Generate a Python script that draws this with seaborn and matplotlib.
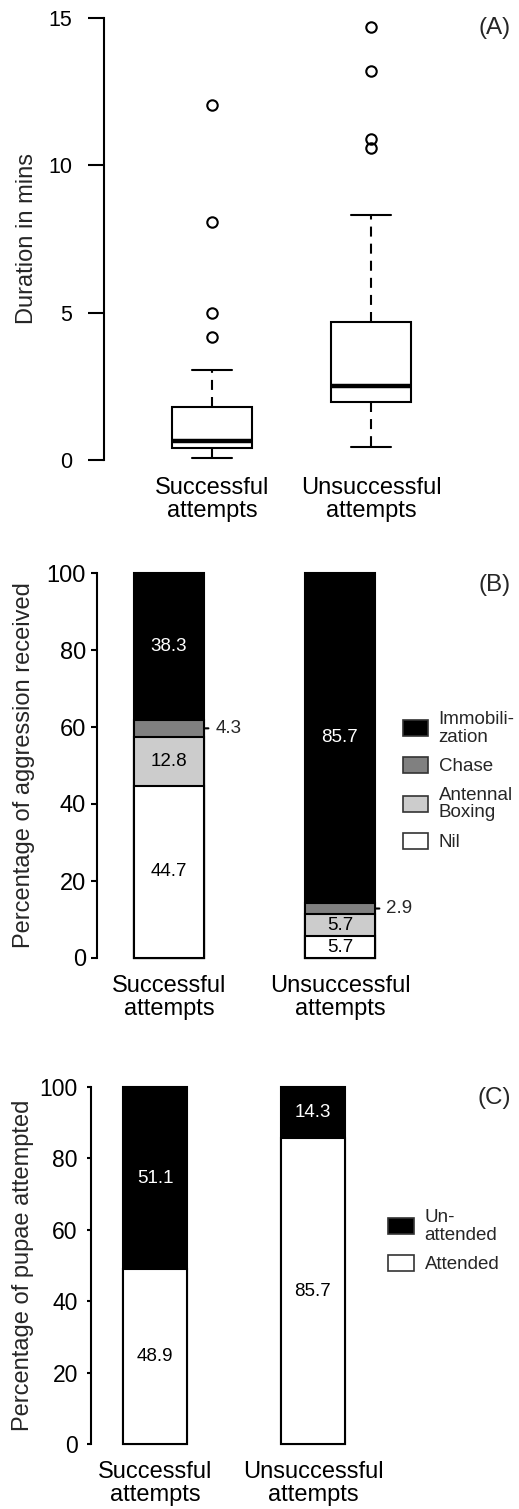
import numpy as np
import pandas as pd
import matplotlib
matplotlib.use("Agg")
import matplotlib.pyplot as plt
import seaborn as sns
from matplotlib.patches import Patch

# categories (x axis of all three panels)
groups = ["Successful\nattempts", "Unsuccessful\nattempts"]

# (A) durations in minutes (quartiles, whiskers, outliers)
dur_successful = [0.07, 0.15, 0.22, 0.30, 0.35, 0.40, 0.45, 0.50, 0.55, 0.60, 0.65,
                  0.80, 1.00, 1.30, 1.55, 1.80, 3.06, 4.18, 4.99, 8.07, 12.04]
dur_unsuccessful = [0.45, 0.90, 1.30, 1.60, 1.80, 1.97, 2.10, 2.20, 2.30, 2.40, 2.52,
                    2.90, 3.30, 3.80, 4.30, 4.70, 8.33, 10.60, 10.88, 13.20, 14.70]

# (B) percentage of aggression received, stacked bottom -> top
aggr_types = ["Nil", "Antennal\nBoxing", "Chase", "Immobili-\nzation"]
aggr_successful = [44.7, 12.8, 4.3, 38.3]
aggr_unsuccessful = [5.7, 5.7, 2.9, 85.7]
aggr_colors = ["white", "#cccccc", "#808080", "black"]
aggr_outside = ["Chase"]

# (C) percentage of pupae attempted, stacked bottom -> top
att_types = ["Attended", "Un-\nattended"]
att_successful = [48.9, 51.1]
att_unsuccessful = [85.7, 14.3]
att_colors = ["white", "black"]

sns.set_style("white")
plt.rcParams["font.family"] = ["Liberation Sans", "DejaVu Sans"]

W, H = 519, 1509
fig = plt.figure(figsize=(W / 100, H / 100), dpi=100)


def px_axes(left, right, top, bottom):
    return fig.add_axes([left / W, 1 - bottom / H, (right - left) / W, (bottom - top) / H])


def style_axis(ax, tick_len, tick_pad, tick_size, xpad):
    for s in ["top", "right", "bottom"]:
        ax.spines[s].set_visible(False)
    ax.spines["left"].set_linewidth(1.5)
    ax.spines["left"].set_color("black")
    ax.tick_params(axis="y", left=True, length=tick_len, width=1.5, pad=tick_pad,
                   labelsize=tick_size, colors="black")
    ax.tick_params(axis="x", length=0, pad=xpad, labelsize=17, colors="black")
    for lbl in ax.get_xticklabels():
        lbl.set_linespacing(1.05)
    ax.set_xlabel("")


# ---------- (A) box plot ----------
axA = px_axes(104, 500, 18, 460)
df_dur = pd.DataFrame({
    "group": [groups[0]] * len(dur_successful) + [groups[1]] * len(dur_unsuccessful),
    "duration": dur_successful + dur_unsuccessful,
})
sns.boxplot(data=df_dur, x="group", y="duration", order=groups, ax=axA,
            color="white", linecolor="black", linewidth=1.5, width=0.5, whis=1.5,
            fliersize=7.5,
            flierprops=dict(marker="o", markerfacecolor="none", markeredgecolor="black",
                            markeredgewidth=1.5),
            medianprops=dict(linewidth=3.2),
            whiskerprops=dict(linestyle=(0, (4.8, 3.4))))
axA.set_xlim(-0.68, 1.81)
axA.set_ylim(0, 15)
axA.set_yticks([0, 5, 10, 15])
axA.set_ylabel("Duration in mins", fontsize=17)
axA.yaxis.set_label_coords((38 - 104) / 396, 0.5)
style_axis(axA, 11.5, 11.5, 15.5, 12.5)
for art in axA.lines:
    art.set_clip_on(False)


# ---------- stacked bars ----------
def stacked(ax, types, succ, unsucc, colors, width, outside=()):
    df = pd.DataFrame({
        "group": np.repeat(groups, len(types)),
        "type": types * 2,
        "value": succ + unsucc,
        "color": colors * 2,
    })
    df["top"] = df.groupby("group", sort=False)["value"].cumsum()
    df["mid"] = df["top"] - df["value"] / 2
    # draw the tallest cumulative layer first, lower layers on top of it
    for t, c in zip(types[::-1], colors[::-1]):
        sub = df[df["type"] == t]
        sns.barplot(data=sub, x="group", y="top", order=groups, color=c, saturation=1,
                    width=width, edgecolor="black", linewidth=1.5, errorbar=None, ax=ax)
    for p in ax.patches:
        p.set_clip_on(False)
    for _, r in df.iterrows():
        i = groups.index(r["group"])
        txt = f"{r['value']:.1f}"
        if r["type"] in outside:
            ax.annotate(txt, xy=(i + width / 2, r["mid"]), xytext=(8, 0),
                        textcoords="offset points", ha="left", va="center", fontsize=13.5,
                        arrowprops=dict(arrowstyle="-", lw=1.5, color="black",
                                        shrinkA=2.5, shrinkB=0))
        else:
            col = "white" if r["color"] == "black" else "black"
            ax.text(i, r["mid"], txt, ha="center", va="center", fontsize=13.5, color=col)
    ax.set_ylim(0, 100)
    ax.set_yticks([0, 20, 40, 60, 80, 100])
    handles = [Patch(facecolor=c, edgecolor="#333333", linewidth=1.2) for c in colors[::-1]]
    return handles, types[::-1]


# ---------- (B) ----------
axB = px_axes(97, 500, 573, 958)
hB, lB = stacked(axB, aggr_types, aggr_successful, aggr_unsuccessful, aggr_colors, 0.41,
                 outside=aggr_outside)
axB.set_xlim(-0.421, 1.936)
axB.set_ylabel("Percentage of aggression received", fontsize=17)
axB.yaxis.set_label_coords((35 - 97) / 403, 0.5)
style_axis(axB, 4.3, 3.6, 17, 12)
legB = axB.legend(hB, lB, loc="upper left", bbox_to_anchor=(403 / W, 1 - 711 / H),
                  bbox_transform=fig.transFigure, frameon=False, fontsize=13.5,
                  handlelength=1.35, handleheight=0.95, handletextpad=0.55,
                  labelspacing=0.6, borderpad=0, borderaxespad=0)
for t in legB.get_texts():
    t.set_linespacing(1.05)

# ---------- (C) ----------
axC = px_axes(91, 500, 1087, 1444)
hC, lC = stacked(axC, att_types, att_successful, att_unsuccessful, att_colors, 0.405)
axC.set_xlim(-0.405, 2.184)
axC.set_ylabel("Percentage of pupae attempted", fontsize=17)
axC.yaxis.set_label_coords((34 - 91) / 409, 0.5)
style_axis(axC, 3, 6.5, 16.5, 12)
legC = axC.legend(hC, lC, loc="upper left", bbox_to_anchor=(388 / W, 1 - 1209 / H),
                  bbox_transform=fig.transFigure, frameon=False, fontsize=13.5,
                  handlelength=1.4, handleheight=0.95, handletextpad=0.55,
                  labelspacing=0.6, borderpad=0, borderaxespad=0)
for t in legC.get_texts():
    t.set_linespacing(1.05)

# panel letters
for letter, yc in [("(A)", 28), ("(B)", 585), ("(C)", 1098)]:
    fig.text(511 / W, 1 - yc / H, letter, ha="right", va="center", fontsize=17.5)

fig.savefig("out.png", dpi=100)
